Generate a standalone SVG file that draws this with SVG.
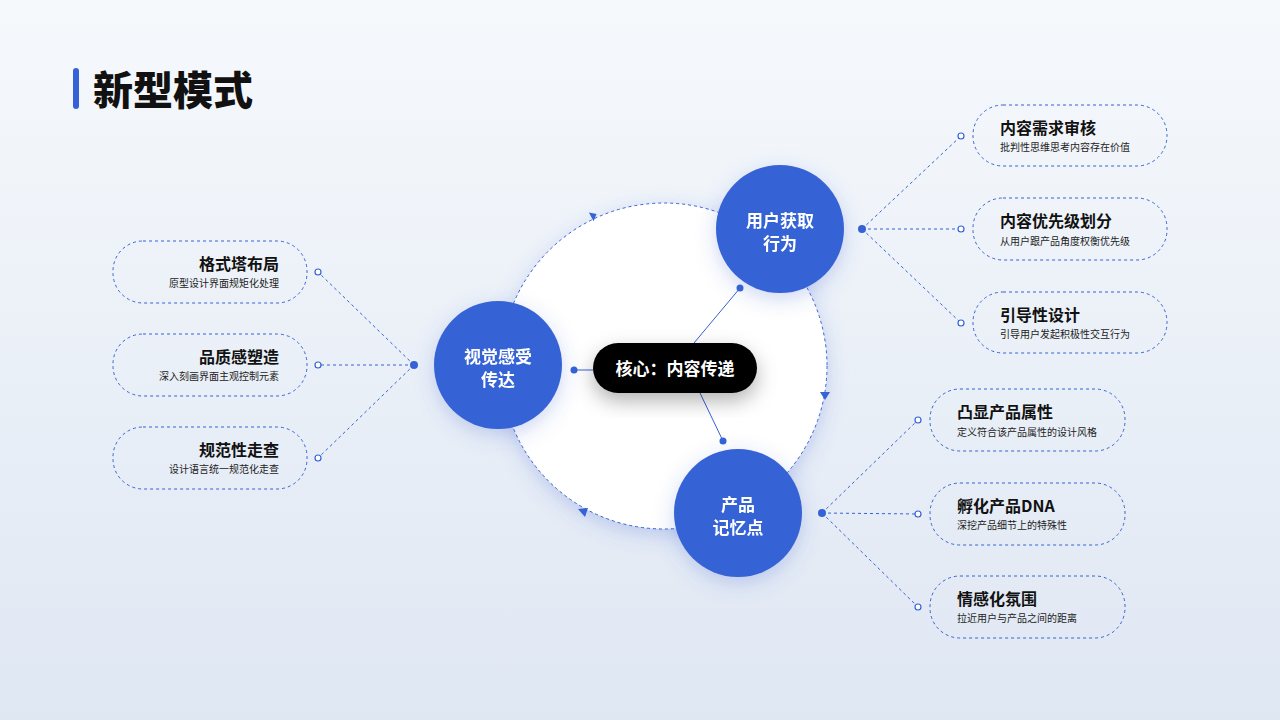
<svg xmlns="http://www.w3.org/2000/svg" width="1280" height="720" viewBox="0 0 1280 720">
<defs>
<linearGradient id="bg" x1="0" y1="0" x2="0" y2="1"><stop offset="0" stop-color="#f6f9fc"/><stop offset="1" stop-color="#dfe7f3"/></linearGradient>
<filter id="sh" x="-50%" y="-50%" width="200%" height="200%"><feDropShadow dx="0" dy="6" stdDeviation="10" flood-color="#3a5fcf" flood-opacity="0.25"/></filter>
<filter id="sh2" x="-50%" y="-50%" width="200%" height="200%"><feDropShadow dx="0" dy="8" stdDeviation="10" flood-color="#000" flood-opacity="0.3"/></filter>
<marker id="tri" viewBox="0 0 10 10" refX="5" refY="5" markerWidth="10" markerHeight="10" orient="auto"><path d="M0,0 L10,5 L0,10 z" fill="#3563d6"/></marker>
</defs>
<style>
.dash{fill:none;stroke:#3563d6;stroke-width:1;stroke-dasharray:3 3}
.box{fill:none;stroke:#3563d6;stroke-width:1;stroke-dasharray:3 3}
.node{fill:#3563d6}
.nt{font-family:"Noto Sans CJK SC",sans-serif;font-weight:700;font-size:17px;fill:#fff;text-anchor:middle}
.t{font-family:"Noto Sans CJK SC",sans-serif;font-weight:700;font-size:16px;fill:#111}
.s{font-family:"Noto Sans CJK SC",sans-serif;font-size:10px;fill:#222}
.oc{fill:#fff;stroke:#3563d6;stroke-width:1.2}
</style>
<rect width="1280" height="720" fill="url(#bg)"/>
<g id="title"><rect x="73" y="68" width="6" height="41" rx="3" fill="#3563d6"/><text x="93" y="105" font-family="Noto Sans CJK SC,sans-serif" font-weight="900" font-size="40" fill="#111">新型模式</text></g>
<g id="ring"><circle cx="664" cy="366" r="163" fill="#fff" stroke="#3563d6" stroke-width="1" stroke-dasharray="3 3" filter="url(#sh)"/></g>
<g id="connectors">
<path d="M593,216 l-6,-5 l0,10 z" fill="#3563d6" transform="rotate(-28 593 216) translate(4 0)"/>
<path d="M820,392 l10,0 l-5,8 z" fill="#3563d6"/>
<path d="M578,509 l10,-1 l-3,9 z" fill="#3563d6"/>
<line x1="574" y1="370" x2="600" y2="370" stroke="#3563d6"/><circle cx="574" cy="370" r="3.5" fill="#3563d6"/>
<line x1="740" y1="288" x2="694" y2="343" stroke="#3563d6"/><circle cx="740" cy="288" r="3.5" fill="#3563d6"/>
<line x1="723" y1="441" x2="700" y2="393" stroke="#3563d6"/><circle cx="723" cy="441" r="3.5" fill="#3563d6"/>
<path class="dash" d="M862,229 L961,136 M862,229 L961,229 M862,229 L961,323"/>
<path class="dash" d="M822,513 L918,420 M822,513 L918,514 M822,513 L918,607"/>
<path class="dash" d="M414,365 L318,272 M414,365 L318,365 M414,365 L318,458"/>
<circle cx="862" cy="229" r="4" fill="#3563d6"/><circle cx="822" cy="513" r="4" fill="#3563d6"/><circle cx="414" cy="365" r="4" fill="#3563d6"/>
<circle class="oc" cx="961" cy="136" r="3"/><circle class="oc" cx="961" cy="229" r="3"/><circle class="oc" cx="961" cy="323" r="3"/>
<circle class="oc" cx="918" cy="420" r="3"/><circle class="oc" cx="918" cy="514" r="3"/><circle class="oc" cx="918" cy="607" r="3"/>
<circle class="oc" cx="318" cy="272" r="3"/><circle class="oc" cx="318" cy="365" r="3"/><circle class="oc" cx="318" cy="458" r="3"/>
</g>
<g id="core"><rect x="593" y="343" width="164" height="50" rx="25" fill="#000" filter="url(#sh2)"/><text x="675" y="375" class="nt">核心：内容传递</text></g>
<g id="n1" filter="url(#sh)"><circle class="node" cx="780" cy="229" r="64"/><text class="nt" x="780" y="227">用户获取</text><text class="nt" x="780" y="250">行为</text></g>
<g id="n2" filter="url(#sh)"><circle class="node" cx="498" cy="365" r="64"/><text class="nt" x="498" y="363">视觉感受</text><text class="nt" x="498" y="386">传达</text></g>
<g id="n3" filter="url(#sh)"><circle class="node" cx="738" cy="513" r="64"/><text class="nt" x="738" y="511">产品</text><text class="nt" x="738" y="534">记忆点</text></g>
<g id="r1"><rect class="box" x="973" y="105" width="194" height="61" rx="30"/><text class="t" x="1000" y="134">内容需求审核</text><text class="s" x="1000" y="151">批判性思维思考内容存在价值</text></g>
<g id="r2"><rect class="box" x="973" y="198" width="194" height="62" rx="30"/><text class="t" x="1000" y="227">内容优先级划分</text><text class="s" x="1000" y="245">从用户跟产品角度权衡优先级</text></g>
<g id="r3"><rect class="box" x="973" y="292" width="194" height="61" rx="30"/><text class="t" x="1000" y="321">引导性设计</text><text class="s" x="1000" y="338">引导用户发起积极性交互行为</text></g>
<g id="b1"><rect class="box" x="930" y="389" width="195" height="62" rx="30"/><text class="t" x="957" y="418">凸显产品属性</text><text class="s" x="957" y="436">定义符合该产品属性的设计风格</text></g>
<g id="b2"><rect class="box" x="930" y="483" width="195" height="62" rx="30"/><text class="t" x="957" y="512">孵化产品DNA</text><text class="s" x="957" y="529">深挖产品细节上的特殊性</text></g>
<g id="b3"><rect class="box" x="930" y="576" width="195" height="62" rx="30"/><text class="t" x="957" y="605">情感化氛围</text><text class="s" x="957" y="622">拉近用户与产品之间的距离</text></g>
<g id="l1" text-anchor="end"><rect class="box" x="113" y="241" width="194" height="62" rx="30"/><text class="t" x="279" y="270">格式塔布局</text><text class="s" x="279" y="287">原型设计界面规矩化处理</text></g>
<g id="l2" text-anchor="end"><rect class="box" x="113" y="334" width="194" height="62" rx="30"/><text class="t" x="279" y="363">品质感塑造</text><text class="s" x="279" y="380">深入刻画界面主观控制元素</text></g>
<g id="l3" text-anchor="end"><rect class="box" x="113" y="427" width="194" height="62" rx="30"/><text class="t" x="279" y="456">规范性走查</text><text class="s" x="279" y="473">设计语言统一规范化走查</text></g>
</svg>
